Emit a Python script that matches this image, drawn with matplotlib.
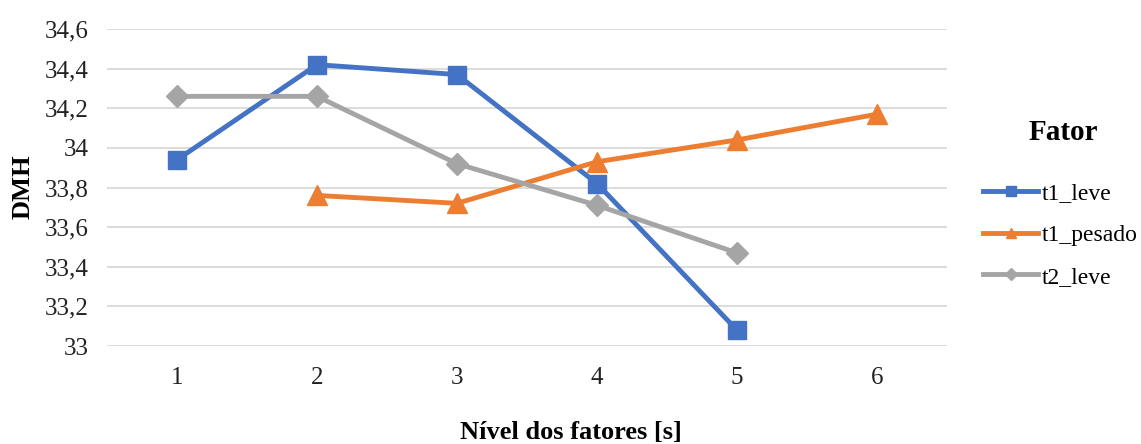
import matplotlib.pyplot as plt
from matplotlib.ticker import FuncFormatter

plt.rcParams['font.family'] = ['Liberation Serif', 'DejaVu Serif']

# data
levels = [1, 2, 3, 4, 5, 6]
t1_leve_x = [1, 2, 3, 4, 5]
t1_leve = [33.94, 34.42, 34.37, 33.82, 33.08]
t1_pesado_x = [2, 3, 4, 5, 6]
t1_pesado = [33.76, 33.72, 33.93, 34.04, 34.17]
t2_leve_x = [1, 2, 3, 4, 5]
t2_leve = [34.26, 34.26, 33.92, 33.71, 33.47]
y_ticks = [33.0, 33.2, 33.4, 33.6, 33.8, 34.0, 34.2, 34.4, 34.6]

fig = plt.figure(figsize=(11.41, 4.44), dpi=100)
ax = fig.add_axes([0.0938, 0.2207, 0.7362, 0.714])

ax.plot(t1_leve_x, t1_leve, color='#4472C4', lw=3.5, marker='s', ms=13,
        label='t1_leve', zorder=3)
ax.plot(t1_pesado_x, t1_pesado, color='#ED7D31', lw=3.5, marker='^', ms=14,
        label='t1_pesado', zorder=3)
ax.plot(t2_leve_x, t2_leve, color='#A5A5A5', lw=3.5, marker='D', ms=11,
        label='t2_leve', zorder=3)

ax.set_xlim(0.5, 6.5)
ax.set_ylim(33.0, 34.6)
ax.set_xticks(levels)
ax.set_yticks(y_ticks)
ax.yaxis.set_major_formatter(FuncFormatter(
    lambda v, p: f'{v:.1f}'.rstrip('0').rstrip('.').replace('.', ',')))
ax.grid(axis='y', color='#D9D9D9', lw=1.3)
ax.set_axisbelow(True)
for s in ax.spines.values():
    s.set_visible(False)
ax.tick_params(length=0, labelsize=18, colors='#222222')
ax.tick_params(axis='x', pad=15)
ax.tick_params(axis='y', pad=13.5)

fig.text(0.5, 0.027, 'Nível dos fatores [s]', ha='center', va='center',
         fontsize=19, fontweight='bold')
fig.text(0.02, 0.58, 'DMH', rotation=90, ha='center', va='center',
         fontsize=19, fontweight='bold')

# legend title drawn separately so the entries can be placed freely
fig.text(1063 / 1141, 1 - 133 / 444, 'Fator', ha='center', va='center',
         fontsize=21, fontweight='bold')
leg = ax.legend(loc='upper left', bbox_to_anchor=(983 / 1141, 1 - 183 / 444),
                bbox_transform=fig.transFigure, frameon=False, fontsize=17,
                borderpad=0, borderaxespad=0, handlelength=2.35,
                handletextpad=0.15, labelspacing=0.85, markerscale=0.55)

fig.savefig('out.png', dpi=100)
